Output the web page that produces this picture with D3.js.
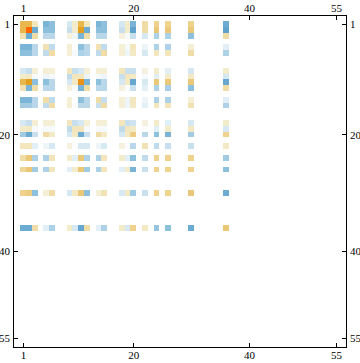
<!DOCTYPE html>
<html><head><meta charset="utf-8">
<style>html,body{margin:0;padding:0;background:#fff}svg{display:block}</style>
<script src="https://cdn.jsdelivr.net/npm/d3@7"></script></head><body><div id="c"></div>
<script>
const tickValues=[1,20,40,55];
const indices=[1,2,3,5,6,9,10,11,12,14,15,18,19,20,22,24,26,30,36];
const matrix=[
[7,7,3,-8,-7,-2,2,7,3,-8,-7,-2,2,-8,4,5,5,5,-9],
[7,10,-9,-7,-7,-3,2,8,-9,-7,-7,-3,2,-10,4,6,6,6,-10],
[3.5,-9,4,-4,-4,1,-1,-8,4,-4,-4,1,-.5,-3,-2,-5,-5,-7,4],
[-8,-8,-4,3.5,-3.5,1.5,0,-7,-4,3.5,-3.5,1.5,-.5,3,-1,-5,-5,1.5,-1.5],
[-7,-7,-4,-3.5,4,1.5,-.5,-5,-4,-3.5,4,1.5,-1,2.5,-2,3,3,4,-5],
[-2,-3,1.5,1.5,1.5,3,-3,-2,1.5,1.5,1.5,3,-3,-3,1,2,-1.5,-2,2],
[2,2.5,-.5,-1,-.5,-3.5,3,3,-1,-.5,-1,-3,3,2.5,-.5,-1.5,2,2.5,-2],
[7,8,-7,-7,-4,-2,2.5,8.5,-8,-7,-4,-2,2.5,-9.5,-2,6,6,6,-9.5],
[3.5,-8,4,-4,-4,1,-.5,-8,4,-4,-4,1,-.3,-3,-1.5,-5,-5.5,-7,4],
[-8,-8,-4,4,-3.5,1.5,0,-7,-4,4,-3,1.5,-1,3,-1,-5,-5,1.5,-1.5],
[-6,-6,-4,-3.5,4,1.5,-.3,-4,-4,-3,4,1.5,-1,2.5,-1.5,3,3,3.5,-5],
[-2,-3,1.5,1.5,1.5,3,-3,-2,1.5,1.5,1.5,3,-3,-2.5,1,2,-1.5,-2,2],
[2,2.5,-.5,-.5,-.5,-3.5,3,3,-.5,-.5,-.5,-3.5,3,2.5,-.3,-1.5,2,2.5,-2],
[-6,-9,-3,4,2.5,-2,2.5,-9,-3,4,2.5,-2,2.5,5.5,-4,-7,-8,-6,5],
[3,3,-1.5,-1,-2,1,-.3,-2,-2,-1,-2,1,-.3,-4,3.5,-3.5,-3,-3,2.5],
[4,6,-5,-5,3,2,-1.5,6,-5,-5,3,2,-1.5,-7,-3.5,5,5,5,-6],
[4.5,6,-6,-5,3,-1.5,2,6,-6,-5,3,-1.5,2,-8,-3,5,5,5,-7],
[5,5.5,-7,1.5,4,-2,2.5,6,-7,1.5,3.5,-2,2.5,-6,-3,5,5,6,-9],
[-9,-9,4,-1.5,-5,2,-2,-9.5,4,-1.5,-5,2,-2,5,2.5,-6.5,-7,-9,6]
];
const colorLevels=[-10,-8,-6,-4,-2,-1,0,1,2,3,4,5,6,7,8,10];
const colorStops=["#5fa3cd","#7ab4d6","#a0cbe3","#b9d7e8","#d6e8f2","#eef5f9","#ffffff","#f6f1de","#f3eccb","#f3e6bd","#f0dca6","#eed28e","#eac878","#e8b84f","#e3a020","#ff6600"];

const W=360,H=363,fL=13.5,fR=346.5,fT=15.5,fB=347.5;
const color=d3.scaleLinear().domain(colorLevels).range(colorStops);
const x=d3.scaleLinear().domain([1,55]).range([23.5,336.5]);
const y=d3.scaleLinear().domain([1,55]).range([24.5,338.5]);
const cw=x(2)-x(1),ch=y(2)-y(1);
const svg=d3.select("#c").append("svg").attr("width",W).attr("height",H);
const cells=matrix.flatMap((row,r)=>row.map((v,c)=>({r:indices[r],c:indices[c],v})));
svg.append("g").selectAll("rect").data(cells).join("rect")
 .attr("x",d=>x(d.c)-cw/2-.4).attr("y",d=>y(d.r)-ch/2-.4)
 .attr("width",cw).attr("height",ch).attr("fill",d=>color(d.v)).attr("shape-rendering","crispEdges");
svg.append("rect").attr("x",fL).attr("y",fT).attr("width",fR-fL).attr("height",fB-fT)
 .attr("fill","none").attr("stroke","#000").attr("stroke-width",1).attr("shape-rendering","crispEdges");
const ax=(gen,tx,ty)=>{const g=svg.append("g").attr("transform",`translate(${tx},${ty})`)
 .call(gen.offset(0).tickValues(tickValues).tickFormat(d3.format("d")).tickSize(-4.5).tickSizeOuter(0).tickPadding(3.5));
 g.select(".domain").remove();
 g.selectAll("line").attr("stroke","#000").attr("stroke-width",1).attr("shape-rendering","crispEdges");
 g.selectAll("text").style("font-family",'"Liberation Serif",serif').style("font-size","11px").style("fill","#000");return g;};
ax(d3.axisTop(x),0,fT);
ax(d3.axisBottom(x),0,fB);
ax(d3.axisLeft(y),fL,0);
ax(d3.axisRight(y),fR,0);
</script></body></html>
